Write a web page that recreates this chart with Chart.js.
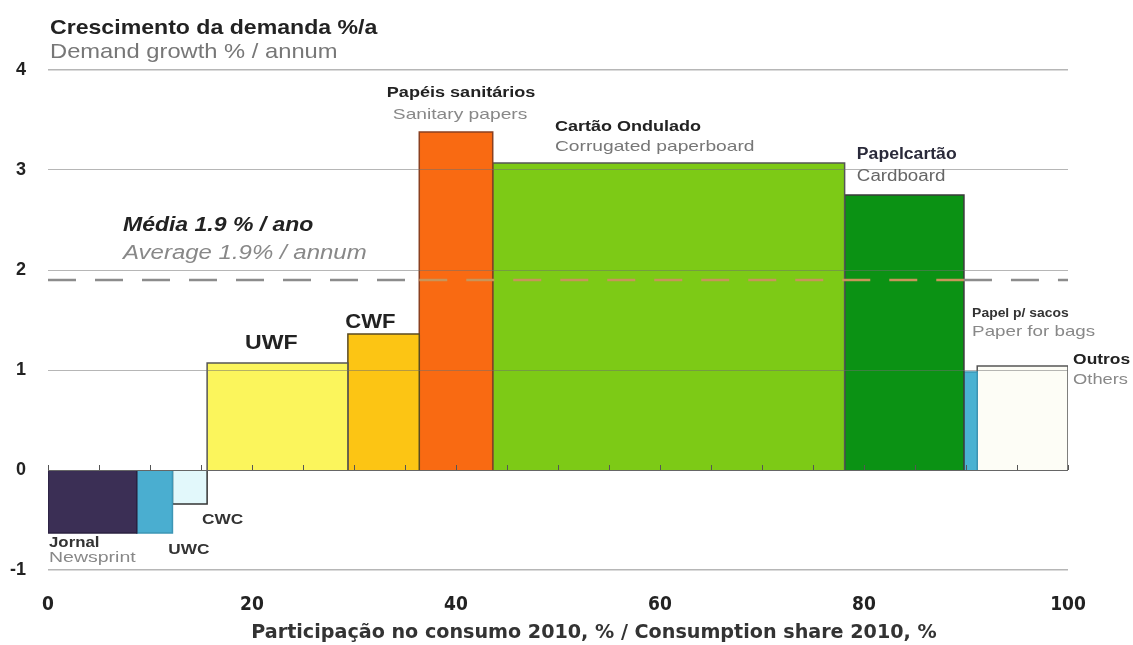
<!DOCTYPE html>
<html>
<head>
<meta charset="utf-8">
<script src="https://cdn.jsdelivr.net/npm/chart.js@4"></script>
<style>
  body { margin: 0; background: #fff; }
  canvas { display: block; }
</style>
</head>
<body>
<canvas id="demandChart" width="1133" height="645"></canvas>
<script>
// categories, consumption share 2010 (% of total) and demand growth (%/a)
var categories = ["Jornal", "UWC", "CWC", "UWF", "CWF", "Papéis sanitários",
  "Cartão Ondulado", "Papelcartão", "Papel p/ sacos", "Outros"];
var shares = [8.7, 3.5, 3.4, 13.8, 7.0, 7.2, 34.5, 11.7, 1.3, 8.9];
var growth = [-0.63, -0.63, -0.34, 1.07, 1.36, 3.38, 3.07, 2.75, 0.98, 1.04];
var averageGrowth = 1.9;
var xTicks = [0, 20, 40, 60, 80, 100];
var yTicks = [-1, 0, 1, 2, 3, 4];

var fills = ["#3b2f55", "#4aaed0", "#e2f8fb", "#fbf55c", "#fcc514", "#f96a12",
  "#7dca16", "#0b9214", "#4ab2d2", "#fdfdf6"];
var borders = ["#2b2240", "#3d96b5", "#333333", "#555555", "#5a4a20", "#8a4020",
  "#555555", "#3a3a3a", "#3d96b5", "#555555"];

var narrow = '"DejaVu Sans Condensed", "Liberation Sans", Arial, sans-serif';
var sans = '"Liberation Sans", Arial, sans-serif';

// each bar becomes an outlined step shape filled down to zero
var datasets = [];
var start = 0;
for (var i = 0; i < categories.length; i++) {
  var end = start + shares[i];
  datasets.push({
    label: categories[i],
    data: [
      { x: start, y: 0 },
      { x: start, y: growth[i] },
      { x: end, y: growth[i] },
      { x: end, y: 0 }
    ],
    backgroundColor: fills[i],
    borderColor: borders[i],
    borderWidth: 1.5,
    fill: "origin",
    pointRadius: 0,
    tension: 0
  });
  start = end;
}

// average line: grey over white, tan over the bars
var barsFrom = shares[0] + shares[1] + shares[2] + shares[3] + shares[4];
var barsTo = barsFrom + shares[5] + shares[6] + shares[7];
datasets.push({
  label: "Média",
  order: -1,
  data: [
    { x: 0, y: averageGrowth },
    { x: barsFrom, y: averageGrowth },
    { x: barsTo, y: averageGrowth },
    { x: 100, y: averageGrowth }
  ],
  borderColor: "#8c8c8c",
  borderWidth: 2.5,
  borderDash: [28, 19],
  pointRadius: 0,
  fill: false,
  segment: {
    borderColor: function (c) { return c.p0DataIndex === 1 ? "#c8955a" : "#8c8c8c"; }
  }
});

// text annotations in data units: [text, x, y, font, color, align, stretch]
var notes = [
  ["Papéis sanitários", 40.5, 3.77, "bold 14px " + sans, "#222", "center", 1.29],
  ["Sanitary papers", 40.4, 3.55, "15px " + sans, "#888", "center", 1.28],
  ["Cartão Ondulado", 49.7, 3.43, "bold 15px " + sans, "#222", "left", 1.2],
  ["Corrugated paperboard", 49.7, 3.23, "15px " + sans, "#777", "left", 1.28],
  ["Papelcartão", 79.3, 3.15, "bold 16px " + sans, "#2a2a3a", "left", 1.1],
  ["Cardboard", 79.3, 2.93, "16px " + sans, "#666", "left", 1.17],
  ["Média 1.9 % / ano", 7.35, 2.45, "italic bold 20px " + sans, "#222", "left", 1.15],
  ["Average 1.9% / annum", 7.35, 2.17, "italic 20px " + sans, "#888", "left", 1.2],
  ["UWF", 21.9, 1.27, "bold 21px " + sans, "#222", "center", 1.1],
  ["CWF", 31.6, 1.48, "bold 21px " + sans, "#222", "center", 1.05],
  ["CWC", 15.1, -0.50, "bold 14px " + sans, "#333", "left", 1.23],
  ["UWC", 11.8, -0.80, "bold 14px " + sans, "#333", "left", 1.23],
  ["Jornal", 0.1, -0.73, "bold 14px " + sans, "#333", "left", 1.2],
  ["Newsprint", 0.1, -0.88, "15px " + sans, "#888", "left", 1.3],
  ["Papel p/ sacos", 90.6, 1.57, "bold 13px " + sans, "#333", "left", 1.07],
  ["Paper for bags", 90.6, 1.38, "15px " + sans, "#888", "left", 1.25],
  ["Outros", 100.5, 1.10, "bold 15px " + sans, "#222", "left", 1.16],
  ["Others", 100.5, 0.90, "15px " + sans, "#888", "left", 1.22]
];

function stretchedText(c, text, x, y, s) {
  c.save();
  c.translate(x, y);
  c.scale(s, 1);
  c.fillText(text, 0, 0);
  c.restore();
}

var annotate = {
  id: "annotate",
  afterDraw: function (chart) {
    var c = chart.ctx, xs = chart.scales.x, ys = chart.scales.y;
    c.save();
    // small ticks on the zero line every 5 %
    c.strokeStyle = "#555";
    c.lineWidth = 1;
    for (var t = 0; t <= 100; t += 5) {
      var px = Math.round(xs.getPixelForValue(t)) + 0.5;
      c.beginPath();
      c.moveTo(px, ys.getPixelForValue(0));
      c.lineTo(px, ys.getPixelForValue(0) - 5);
      c.stroke();
    }
    c.textBaseline = "middle";
    notes.forEach(function (n) {
      c.font = n[3];
      c.fillStyle = n[4];
      c.textAlign = n[5];
      stretchedText(c, n[0], xs.getPixelForValue(n[1]), ys.getPixelForValue(n[2]), n[6]);
    });
    // headings
    c.textAlign = "left";
    c.font = "bold 21px " + sans;
    c.fillStyle = "#222";
    stretchedText(c, "Crescimento da demanda %/a", 50, 28, 1.1);
    c.font = "21px " + sans;
    c.fillStyle = "#777";
    stretchedText(c, "Demand growth % / annum", 50, 52, 1.13);
    c.textAlign = "center";
    c.font = "bold 19px " + narrow;
    c.fillStyle = "#333";
    stretchedText(c, "Participação no consumo 2010, % / Consumption share 2010, %", 594, 633, 1.12);
    c.restore();
  }
};

var ctx = document.getElementById("demandChart").getContext("2d");
var myChart = new Chart(ctx, {
  type: "line",
  data: { datasets: datasets },
  options: {
    responsive: false,
    animation: false,
    layout: { padding: { top: 70, right: 65 } },
    scales: {
      x: {
        type: "linear",
        min: 0,
        max: 100,
        afterBuildTicks: function (s) { s.ticks = xTicks.map(function (v) { return { value: v }; }); },
        afterFit: function (s) { s.height = 75; },
        ticks: {
          padding: 24,
          color: "#222",
          font: { family: narrow, size: 19, weight: "bold" }
        },
        grid: { display: false, drawTicks: false },
        border: { display: false }
      },
      y: {
        min: -1,
        max: 4,
        afterBuildTicks: function (s) { s.ticks = yTicks.map(function (v) { return { value: v }; }); },
        afterFit: function (s) { s.width = 48; },
        ticks: {
          padding: 22,
          color: "#222",
          font: { family: sans, size: 18, weight: "bold" }
        },
        grid: {
          z: 1,
          drawTicks: false,
          color: function (c) { return c.tick.value === 0 ? "#666" : "rgba(110,110,110,0.5)"; },
          lineWidth: function (c) { return c.tick.value === 4 || c.tick.value === -1 ? 1.5 : 1; }
        },
        border: { display: false }
      }
    },
    plugins: {
      legend: { display: false },
      tooltip: { enabled: false }
    }
  },
  plugins: [annotate]
});
</script>
</body>
</html>
